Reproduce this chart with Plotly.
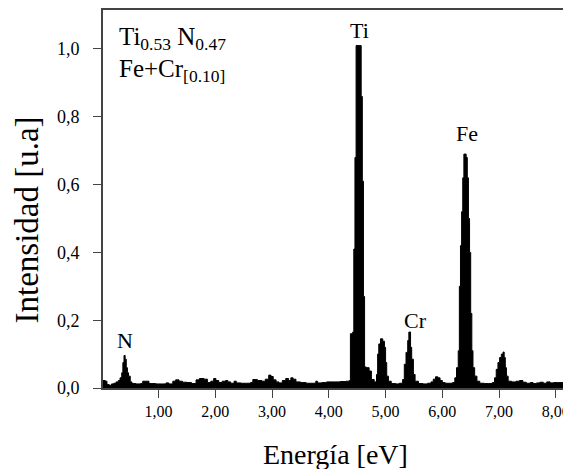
import plotly.graph_objects as go

# Spectrum (energy in eV, normalised intensity)
energia = [0.02, 0.06, 0.09, 0.13, 0.17, 0.21, 0.25, 0.29, 0.32, 0.35, 0.37, 0.39, 0.41, 0.43, 0.45,
           0.47, 0.50, 0.53, 0.60, 0.68, 0.72, 0.78, 0.83, 0.95, 1.05, 1.13, 1.18, 1.25, 1.30, 1.36,
           1.42, 1.50, 1.58, 1.66, 1.72, 1.80, 1.86, 1.92, 1.97, 2.01, 2.06, 2.12, 2.18, 2.22, 2.27,
           2.33, 2.37, 2.45, 2.55, 2.62, 2.66, 2.74, 2.82, 2.88, 2.94, 2.98, 3.02, 3.07, 3.12, 3.18,
           3.24, 3.29, 3.33, 3.37, 3.42, 3.50, 3.60, 3.70, 3.77, 3.80, 3.88, 3.96, 4.10, 4.20, 4.30,
           4.36, 4.38, 4.42, 4.44, 4.46, 4.48, 4.57, 4.59, 4.61, 4.63, 4.66, 4.71, 4.75, 4.80, 4.84,
           4.86, 4.88, 4.91, 4.95, 4.98, 5.00, 5.02, 5.05, 5.10, 5.18, 5.24, 5.30, 5.33, 5.36, 5.39,
           5.41, 5.44, 5.46, 5.49, 5.52, 5.58, 5.66, 5.74, 5.80, 5.84, 5.88, 5.92, 5.96, 6.00, 6.05,
           6.12, 6.18, 6.22, 6.25, 6.28, 6.30, 6.32, 6.34, 6.36, 6.38, 6.42, 6.44, 6.46, 6.48, 6.50,
           6.52, 6.54, 6.57, 6.61, 6.66, 6.74, 6.82, 6.88, 6.92, 6.95, 6.98, 7.01, 7.04, 7.07, 7.09,
           7.11, 7.13, 7.16, 7.22, 7.30, 7.36, 7.42, 7.48, 7.55, 7.60, 7.66, 7.72, 7.78, 7.84, 7.90,
           7.96, 8.05, 8.15, 8.25]
intensidad = [0.022, 0.020, 0.010, 0.008, 0.012, 0.014, 0.018, 0.022, 0.030, 0.045, 0.075, 0.096, 0.085, 0.060, 0.045,
              0.035, 0.018, 0.013, 0.012, 0.013, 0.020, 0.020, 0.013, 0.012, 0.012, 0.015, 0.012, 0.020, 0.024, 0.020,
              0.017, 0.016, 0.013, 0.024, 0.028, 0.026, 0.016, 0.020, 0.028, 0.022, 0.016, 0.020, 0.022, 0.018, 0.014,
              0.020, 0.015, 0.014, 0.014, 0.016, 0.025, 0.022, 0.020, 0.026, 0.038, 0.034, 0.024, 0.018, 0.015, 0.022,
              0.028, 0.022, 0.030, 0.026, 0.018, 0.016, 0.014, 0.014, 0.020, 0.015, 0.016, 0.018, 0.018, 0.019, 0.020,
              0.022, 0.160, 0.165, 0.410, 0.680, 1.010, 0.860, 0.610, 0.270, 0.062, 0.060, 0.050, 0.025, 0.018, 0.040,
              0.100, 0.130, 0.145, 0.138, 0.120, 0.075, 0.035, 0.020, 0.013, 0.012, 0.014, 0.025, 0.070, 0.105, 0.140,
              0.165, 0.120, 0.085, 0.040, 0.020, 0.013, 0.012, 0.014, 0.018, 0.026, 0.033, 0.030, 0.022, 0.016, 0.014,
              0.014, 0.016, 0.030, 0.060, 0.110, 0.300, 0.420, 0.520, 0.620, 0.690, 0.680, 0.620, 0.500, 0.400, 0.220,
              0.110, 0.060, 0.035, 0.020, 0.014, 0.013, 0.013, 0.016, 0.030, 0.055, 0.075, 0.090, 0.100, 0.106, 0.090,
              0.060, 0.035, 0.020, 0.018, 0.020, 0.022, 0.017, 0.014, 0.016, 0.013, 0.015, 0.017, 0.014, 0.018, 0.015,
              0.016, 0.016, 0.016, 0.016]

x_ticks = [1, 2, 3, 4, 5, 6, 7, 8]
y_ticks = [0.0, 0.2, 0.4, 0.6, 0.8, 1.0]

peak_labels = ["N", "Ti", "Cr", "Fe"]
peak_x = [0.40, 4.54, 5.53, 6.43]
peak_y = [0.14, 1.055, 0.20, 0.75]

FONT = "Liberation Serif, Times New Roman, serif"
AX = "#444444"

fig = go.Figure()
fig.add_trace(go.Scatter(
    x=energia, y=intensidad, mode="lines", line=dict(color="black", width=1, shape="hv"),
    fill="tozeroy", fillcolor="black", hoverinfo="skip", showlegend=False))

for lab, px, py in zip(peak_labels, peak_x, peak_y):
    fig.add_annotation(x=px, y=py, text=lab, showarrow=False, xanchor="center", yanchor="middle",
                       font=dict(family=FONT, size=22, color="black"))

fig.add_annotation(xref="paper", yref="paper", x=0.031, y=0.925, xanchor="left", yanchor="middle",
                   text="Ti<sub>0.53</sub> N<sub>0.47</sub>", showarrow=False,
                   font=dict(family=FONT, size=25, color="black"))
fig.add_annotation(xref="paper", yref="paper", x=0.031, y=0.84, xanchor="left", yanchor="middle",
                   text="Fe+Cr<sub>[0.10]</sub>", showarrow=False,
                   font=dict(family=FONT, size=25, color="black"))

fig.add_annotation(xref="paper", yref="paper", x=0.497, y=-0.176, xanchor="center", yanchor="middle",
                   text="Energía [eV]",
                   showarrow=False, font=dict(family=FONT, size=28, color="black"))
fig.add_annotation(xref="paper", yref="paper", x=-0.162, y=0.444, xanchor="center", yanchor="middle",
                   text="Intensidad [u.a]",
                   textangle=-90, showarrow=False, font=dict(family=FONT, size=33, color="black"))

fig.add_shape(type="line", xref="paper", yref="paper", x0=1, x1=1, y0=0, y1=1,
              line=dict(color="#bbbbbb", width=1))

# page body adds an 8px offset, so the figure is shrunk/shifted to land on the reference pixels
fig.update_layout(
    width=563, height=461,
    margin=dict(l=95, r=1, t=2, b=81),
    paper_bgcolor="white", plot_bgcolor="white",
    separators=",.",
    font=dict(family=FONT, color="black"),
    xaxis=dict(range=[0.02, 8.25], tickvals=x_ticks, tickformat=".2f",
               showgrid=False, zeroline=False, showline=True, mirror=True,
               linecolor=AX, linewidth=2, ticks="outside", ticklen=8, tickcolor=AX, tickwidth=1,
               ticklabeloverflow="allow",
               tickfont=dict(family=FONT, size=16, color="black")),
    yaxis=dict(range=[0, 1.115], tickvals=y_ticks, tickformat=".1f",
               showgrid=False, zeroline=False, showline=True, mirror=False,
               linecolor=AX, linewidth=2, ticks="outside", ticklen=8, tickcolor=AX, tickwidth=1,
               ticklabelstandoff=10,
               tickfont=dict(family=FONT, size=18, color="black")),
)

fig.write_html("out.html")
